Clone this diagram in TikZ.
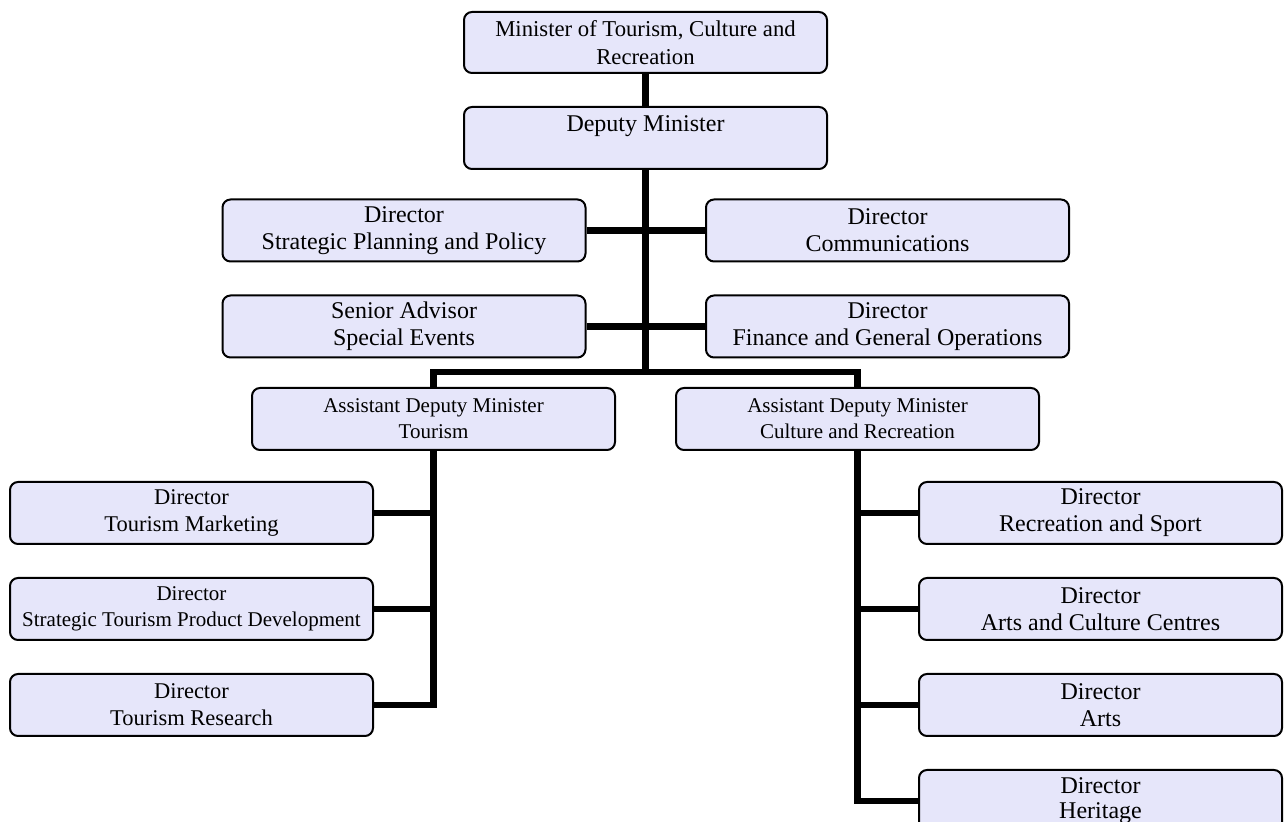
\documentclass[tikz,border=0pt]{standalone}
\usepackage{fontspec}
\setmainfont{Liberation Serif}
\usepackage{xcolor}
\definecolor{lav}{HTML}{E6E6FA}
\usepackage{tikz}
\usetikzlibrary{positioning}
\tikzset{
  unit/.style={draw=black,fill=lav,rounded corners=4pt,line width=1pt,minimum width=181.5pt,minimum height=31pt,inner sep=0pt,align=center,font=\fontsize{12}{13.5}\selectfont},
  munit/.style={unit,font=\fontsize{11.25}{13.5}\selectfont},
  sunit/.style={unit,font=\fontsize{10.5}{13}\selectfont},
  link/.style={draw=black,line width=3.3pt},
}
\begin{document}
\begin{tikzpicture}[x=0.5pt,y=-0.5pt,node distance=16pt]
\useasboundingbox (0,0) rectangle (1287,822);
% top
\node[unit,minimum height=30.5pt,font=\fontsize{11.35}{14}\selectfont] (min) at (645.5,42.5) {Minister of Tourism, Culture and\\Recreation};
\node[unit,below=16pt of min] (dep) {Deputy Minister\\[-3pt]\strut};
% staff
\node[unit] (spp) at (404,230.5) {Director\\Strategic Planning and Policy};
\node[unit] (comm) at (887.5,230.5) {Director\\Communications};
\node[unit,below=of spp] (sen) {Senior Advisor\\Special Events};
\node[unit,below=of comm] (fin) {Director\\Finance and General Operations};
% ADMs
\node[sunit] (adm1) at (433.5,419) {Assistant Deputy Minister\\Tourism};
\node[sunit] (adm2) at (857.5,419) {Assistant Deputy Minister\\Culture and Recreation};
% tourism
\node[munit] (tm) at (191.5,513) {Director\\Tourism Marketing};
\node[sunit,below=of tm] (stpd) {Director\\Strategic Tourism Product Development};
\node[munit,below=of stpd] (tr) {Director\\Tourism Research};
% culture and recreation
\node[unit] (rs) at (1100.5,513) {Director\\Recreation and Sport};
\node[unit,below=of rs] (acc) {Director\\Arts and Culture Centres};
\node[unit,below=of acc] (arts) {Director\\Arts};
\node[unit,below=of arts,font=\fontsize{12}{12.5}\selectfont] (her) {Director\\Heritage};
\coordinate (bar) at (645.5,372);
\draw[link] (min) -- (dep);
\draw[link] (dep) -- (bar);
\draw[link] (spp) -- (comm);
\draw[link] (sen) -- (fin);
\draw[link] (adm1.north) |- (bar) -| (adm2.north);
\draw[link] (adm1) |- (tr);
\draw[link] (tm) -- (tm -| adm1); \draw[link] (stpd) -- (stpd -| adm1);
\draw[link] (adm2) |- (her);
\draw[link] (rs) -- (rs -| adm2); \draw[link] (acc) -- (acc -| adm2); \draw[link] (arts) -- (arts -| adm2);
\end{tikzpicture}
\end{document}
